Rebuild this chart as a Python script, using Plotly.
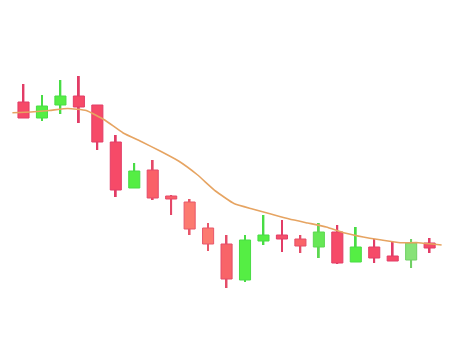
import plotly.graph_objects as go

idx = list(range(23))
open_ = [23.6, 22.0, 23.3, 24.2, 23.3, 19.6, 15.0, 16.8, 14.2, 13.6, 11.0, 9.4, 5.8, 9.7, 10.3, 9.9, 9.1, 10.6, 7.6, 9.1, 8.2, 7.8, 9.5]
high = [25.4, 24.3, 25.8, 26.2, 23.3, 20.3, 17.5, 17.8, 14.3, 13.9, 11.5, 10.3, 10.3, 12.3, 11.8, 10.3, 11.5, 11.3, 11.1, 9.9, 9.6, 9.9, 10.0]
low = [22.0, 21.7, 22.4, 21.5, 18.8, 14.1, 15.0, 13.8, 12.3, 10.3, 8.7, 5.0, 5.6, 9.3, 8.6, 8.5, 8.0, 7.4, 7.6, 7.5, 7.7, 7.0, 8.5]
close = [22.0, 23.2, 24.2, 23.1, 19.6, 14.8, 16.7, 14.0, 13.9, 10.9, 9.4, 5.9, 9.8, 10.3, 9.9, 9.2, 10.6, 7.5, 9.1, 8.0, 7.7, 9.5, 9.0]
fill = ["#f64a68", "#55ee44", "#55ee44", "#f64a68", "#f64a68", "#f64a68", "#55ee44",
        "#fa6068", "#fa6068", "#fc7a70", "#fc7a70", "#f86468", "#55ee44", "#55ee44",
        "#f4506a", "#fa6468", "#66e855", "#f64a68", "#55ee44", "#f64a68", "#f64a68",
        "#88e278", "#f64a68"]
edge = ["#e23c66", "#48dc44", "#48dc44", "#e23c66", "#e23c66", "#e23c66", "#48dc44",
        "#e44868", "#e44868", "#e8566a", "#e8566a", "#e44c68", "#48dc44", "#48dc44",
        "#e23c66", "#e44c68", "#5cd850", "#e23c66", "#48dc44", "#e23c66", "#e23c66",
        "#70d064", "#e23c66"]
ma_x = [-0.6, 0.4, 1.4, 2.4, 3.4, 4.4, 5.4, 6.4, 7.4, 8.4, 9.4, 10.4, 11.4, 12.4, 13.4, 14.4, 15.4, 16.4, 17.4, 18.4, 19.4, 20.4, 21.4, 22.65]
ma_y = [22.53, 22.6, 22.75, 22.95, 22.75, 21.8, 20.5, 19.62, 18.7, 17.7, 16.35, 14.7, 13.45, 12.9, 12.4, 11.9, 11.5, 11.1, 10.5, 10.1, 9.8, 9.53, 9.53, 9.3]

wick_len = [h - l for h, l in zip(high, low)]
body_base = [min(o, c) for o, c in zip(open_, close)]
body_len = [abs(c - o) for o, c in zip(open_, close)]

fig = go.Figure()
fig.add_trace(go.Bar(x=idx, y=wick_len, base=low, width=0.1,
                     marker=dict(color=edge, line=dict(width=0)), hoverinfo="skip"))
fig.add_trace(go.Bar(x=idx, y=body_len, base=body_base, width=0.6,
                     marker=dict(color=fill, line=dict(color=edge, width=1))))
fig.add_trace(go.Scatter(x=ma_x, y=ma_y, mode="lines",
                         line=dict(color="#e6a462", width=1.6, shape="spline", smoothing=0.4)))

fig.update_layout(
    width=450, height=338,
    margin=dict(l=0, r=0, t=0, b=0),
    paper_bgcolor="white", plot_bgcolor="white",
    showlegend=False, barmode="overlay",
    xaxis=dict(range=[-1.273, 23.104], visible=False),
    yaxis=dict(range=[0, 33.8], visible=False),
)
fig.write_html("out.html")
